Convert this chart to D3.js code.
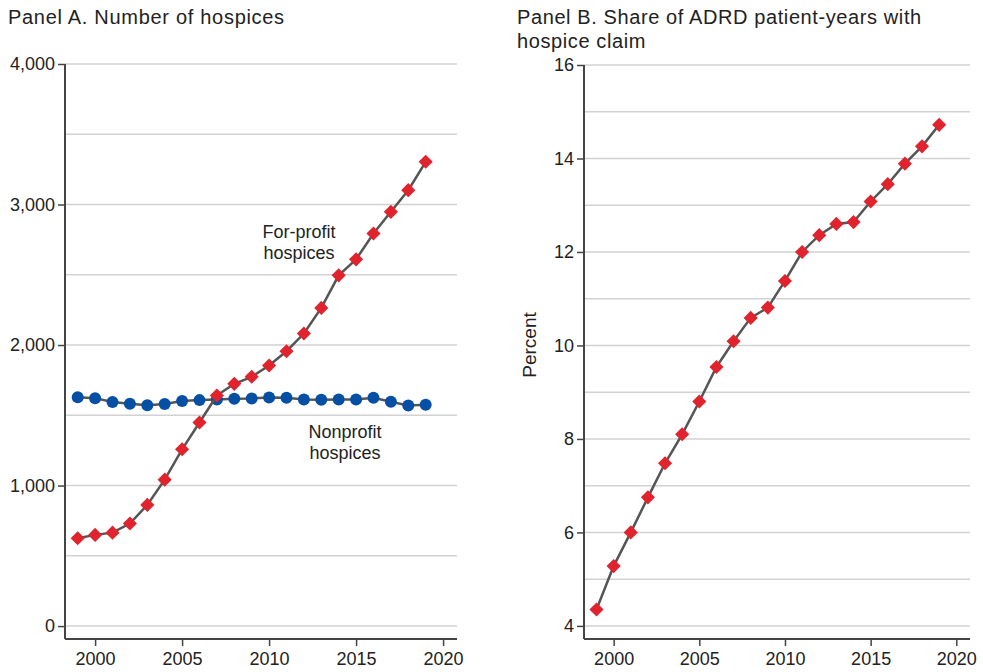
<!DOCTYPE html>
<html>
<head>
<meta charset="utf-8">
<script src="https://cdn.jsdelivr.net/npm/d3@7"></script>
<style>
  body { margin: 0; background: #fff; }
  svg { display: block; font-family: "Liberation Sans", Arial, Helvetica, sans-serif; }
  text { fill: #222; }
</style>
</head>
<body>
<svg id="chart" width="983" height="672"></svg>
<script>
/* global d3 */

var years = d3.range(1999, 2020);

var forProfit = [625, 649, 665, 730, 862, 1042, 1258, 1449, 1641, 1724, 1774,
    1854, 1956, 2082, 2264, 2496, 2610, 2794, 2948, 3102, 3304];

var nonProfit = [1629, 1622, 1594, 1582, 1572, 1580, 1601, 1608, 1613, 1618, 1620,
    1627, 1625, 1613, 1611, 1613, 1613, 1625, 1596, 1570, 1575];

var adrdShare = [4.35, 5.28, 6.0, 6.75, 7.48, 8.10, 8.80, 9.54, 10.09, 10.59, 10.81,
    11.38, 12.0, 12.36, 12.6, 12.64, 13.08, 13.45, 13.89, 14.26, 14.72];

var xTicks = [2000, 2005, 2010, 2015, 2020];
var countTicks = [0, 1000, 2000, 3000, 4000];
var countGrid = d3.range(0, 4001, 500);
var pctTicks = [4, 6, 8, 10, 12, 14, 16];
var pctGrid = d3.range(4, 17, 1);

var RED = "#e0232c", BLUE = "#0550a4", LINE = "#555", AXIS = "#444", GRID = "#d2d2d2";

var svg = d3.select("#chart");

function drawPanel(opt) {
    var x = d3.scaleLinear().domain([1998.27, 2020.8]).range([opt.left, opt.right]);
    var y = d3.scaleLinear().domain(opt.yDomain).range([639, opt.top]);
    var g = svg.append("g");

    // gridlines
    g.selectAll("line.grid").data(opt.grid).enter().append("line")
        .attr("class", "grid")
        .attr("x1", opt.left).attr("x2", opt.right)
        .attr("y1", function (d) { return y(d); })
        .attr("y2", function (d) { return y(d); })
        .attr("stroke", GRID).attr("stroke-width", 1.5);

    var yAxis = g.append("g")
        .attr("transform", "translate(" + opt.left + ",0)")
        .call(d3.axisLeft(y).tickValues(opt.ticks).tickSize(7).tickPadding(3).tickFormat(opt.fmt));
    var xAxis = g.append("g")
        .attr("transform", "translate(0,639)")
        .call(d3.axisBottom(x).tickValues(xTicks).tickSize(7).tickPadding(6).tickFormat(d3.format("d")));

    [xAxis, yAxis].forEach(function (a) {
        a.select(".domain").attr("stroke", AXIS).attr("stroke-width", 2);
        a.selectAll(".tick line").attr("stroke", AXIS).attr("stroke-width", 1.5);
        a.selectAll(".tick text").attr("font-size", 18).attr("fill", "#222")
            .attr("font-family", "Liberation Sans, Arial, sans-serif");
    });
    yAxis.select(".domain").attr("d", "M0," + y(opt.yDomain[1]) + "V639");
    xAxis.select(".domain").attr("d", "M" + opt.left + ",0H" + opt.right);

    return { g: g, x: x, y: y };
}

function drawSeries(p, values, shape) {
    var line = d3.line()
        .x(function (d, i) { return p.x(years[i]); })
        .y(function (d) { return p.y(d); });
    p.g.append("path").datum(values)
        .attr("d", line)
        .attr("fill", "none").attr("stroke", LINE).attr("stroke-width", 2.5);

    if (shape === "diamond") {
        p.g.selectAll(null).data(values).enter().append("path")
            .attr("d", d3.symbol().type(d3.symbolSquare).size(100))
            .attr("transform", function (d, i) {
                return "translate(" + p.x(years[i]) + "," + p.y(d) + ") rotate(45)";
            })
            .attr("fill", RED);
    } else {
        p.g.selectAll(null).data(values).enter().append("circle")
            .attr("cx", function (d, i) { return p.x(years[i]); })
            .attr("cy", function (d) { return p.y(d); })
            .attr("r", 6)
            .attr("fill", BLUE);
    }
}

// Panel A
var pA = drawPanel({
    left: 65, right: 457, top: 64,
    yDomain: [-92, 4000],
    ticks: countTicks, grid: countGrid,
    fmt: d3.format(",")
});
drawSeries(pA, nonProfit, "circle");
drawSeries(pA, forProfit, "diamond");

// Panel B
var pB = drawPanel({
    left: 584, right: 970, top: 65,
    yDomain: [3.72, 16],
    ticks: pctTicks, grid: pctGrid,
    fmt: d3.format("d")
});
drawSeries(pB, adrdShare, "diamond");

// titles
svg.append("text").attr("x", 8).attr("y", 24)
    .attr("font-size", 20).attr("letter-spacing", 0.7)
    .text("Panel A. Number of hospices");
svg.append("text").attr("x", 517).attr("y", 24)
    .attr("font-size", 20).attr("letter-spacing", 0.6)
    .text("Panel B. Share of ADRD patient-years with");
svg.append("text").attr("x", 517).attr("y", 48)
    .attr("font-size", 20).attr("letter-spacing", 0.6)
    .text("hospice claim");

// y label panel B
svg.append("text")
    .attr("transform", "translate(536,345) rotate(-90)")
    .attr("text-anchor", "middle")
    .attr("font-size", 19)
    .text("Percent");

// annotations
function note(cx, y0, lines) {
    var t = svg.append("text").attr("text-anchor", "middle").attr("font-size", 18);
    lines.forEach(function (s, i) {
        t.append("tspan").attr("x", cx).attr("y", y0 + i * 21).text(s);
    });
}
note(299, 238, ["For-profit", "hospices"]);
note(345, 438, ["Nonprofit", "hospices"]);
</script>
</body>
</html>
